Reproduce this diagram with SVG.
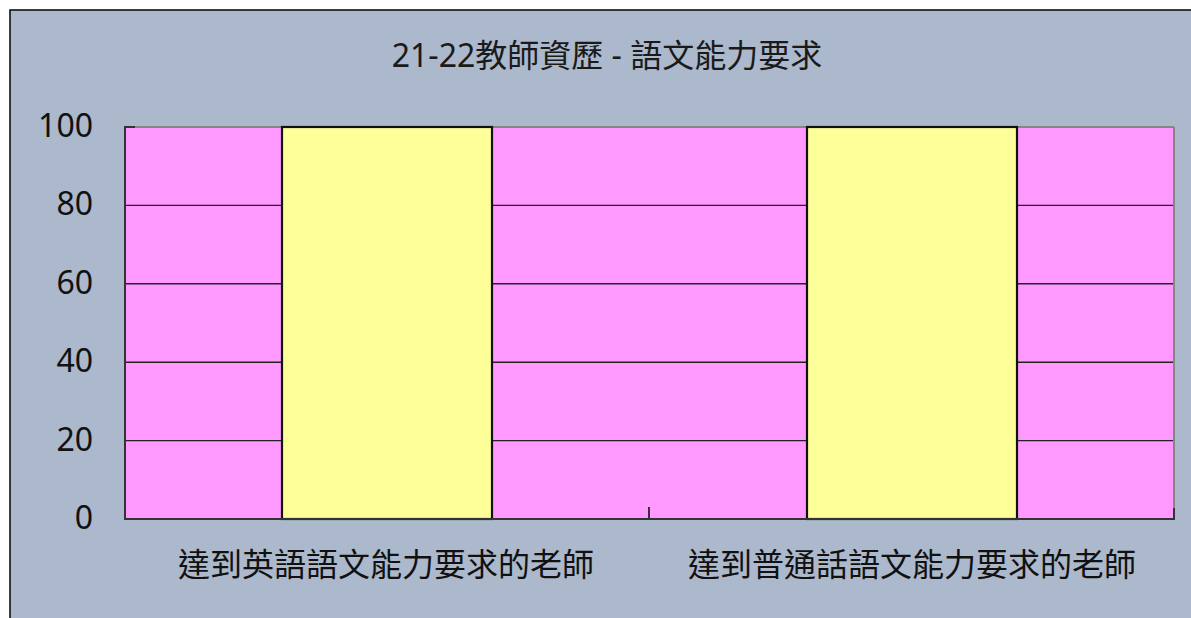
<svg xmlns="http://www.w3.org/2000/svg" width="1191" height="618" viewBox="0 0 1191 618">
<style>
.txt{font-family:"Noto Sans","Noto Sans CJK TC",sans-serif;fill:#111;}
.tick{font-size:32px;text-anchor:end;}
.cat{font-size:32px;text-anchor:middle;}
.title{font-size:32px;text-anchor:middle;fill:#1a1a1a;}
.grid{stroke:#222;stroke-width:1.4;}
.bar{fill:#ffff99;stroke:#111;stroke-width:2.2;}
</style>
<rect x="0" y="0" width="1191" height="618" fill="#ffffff"/>
<rect x="10" y="10" width="1200" height="640" fill="#acb8cb" stroke="#111" stroke-width="1.6"/>
<g id="title"><text class="txt title" x="607" y="67">21-22教師資歷 - 語文能力要求</text></g>
<g id="plot">
<rect x="125" y="127" width="1048" height="392" fill="#ff99ff"/>
<line x1="125" y1="127" x2="1174" y2="127" stroke="#858585" stroke-width="2"/>
<line x1="1174" y1="127" x2="1174" y2="508" stroke="#858585" stroke-width="2"/>
</g>
<g id="gridlines">
<line class="grid" x1="125" y1="205.4" x2="1173" y2="205.4"/>
<line class="grid" x1="125" y1="283.8" x2="1173" y2="283.8"/>
<line class="grid" x1="125" y1="362.2" x2="1173" y2="362.2"/>
<line class="grid" x1="125" y1="440.6" x2="1173" y2="440.6"/>
</g>
<g id="bar-english"><rect class="bar" x="282" y="127" width="210" height="392"/></g>
<g id="bar-putonghua"><rect class="bar" x="807" y="127" width="210" height="392"/></g>
<g id="axes" stroke="#333" stroke-width="2">
<line x1="125" y1="126" x2="125" y2="520"/>
<line x1="124" y1="519" x2="1175" y2="519"/>
<line x1="125" y1="127" x2="135" y2="127"/>
<line x1="649" y1="507" x2="649" y2="519"/>
<line x1="1174" y1="508" x2="1174" y2="519"/>
</g>
<g id="y-labels">
<text class="txt tick" x="93" y="137">100</text>
<text class="txt tick" x="93" y="215">80</text>
<text class="txt tick" x="93" y="294">60</text>
<text class="txt tick" x="93" y="372">40</text>
<text class="txt tick" x="93" y="451">20</text>
<text class="txt tick" x="93" y="529">0</text>
</g>
<g id="x-labels">
<text class="txt cat" x="386" y="576">達到英語語文能力要求的老師</text>
<text class="txt cat" x="912" y="576">達到普通話語文能力要求的老師</text>
</g>
</svg>
